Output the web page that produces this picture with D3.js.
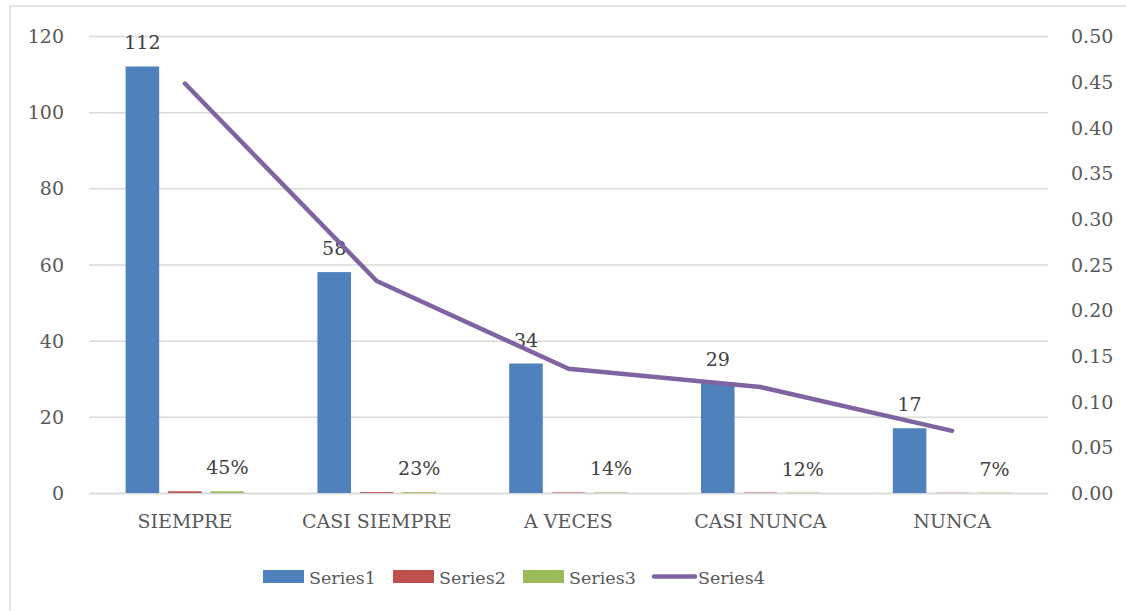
<!DOCTYPE html>
<html>
<head>
<meta charset="utf-8">
<script src="https://cdn.jsdelivr.net/npm/d3@7"></script>
<style>
  html, body { margin: 0; padding: 0; background: #fff; }
  svg { display: block; }
  text { font-family: "DejaVu Serif", serif; }
</style>
</head>
<body>
<svg id="chart" width="1126" height="611"></svg>
<script>
const categories = ["SIEMPRE", "CASI SIEMPRE", "A VECES", "CASI NUNCA", "NUNCA"];
const series1 = [112, 58, 34, 29, 17];
const series2 = [0.448, 0.232, 0.136, 0.116, 0.068];
const series3 = [0.448, 0.232, 0.136, 0.116, 0.068];
const series4 = [0.448, 0.232, 0.136, 0.116, 0.068];
const leftTicks = [0, 20, 40, 60, 80, 100, 120];
const rightTicks = [0, 0.05, 0.10, 0.15, 0.20, 0.25, 0.30, 0.35, 0.40, 0.45, 0.50];
const seriesNames = ["Series1", "Series2", "Series3", "Series4"];
const colors = ["#4F81BD", "#C0504D", "#9BBB59", "#8064A2"];

const svg = d3.select("#chart");
const plot = { left: 89, right: 1048, top: 36, bottom: 493 };

// chart border
svg.append("rect").attr("x", 10).attr("y", 6).attr("width", 1130).attr("height", 620)
  .attr("fill", "#fff").attr("stroke", "#D9D9D9").attr("stroke-width", 1.5);

const x = d3.scaleBand().domain(categories).range([plot.left, plot.right]).padding(0);
const y = d3.scaleLinear().domain([0, 120]).range([plot.bottom, plot.top]);
const y2 = d3.scaleLinear().domain([0, 0.5]).range([plot.bottom, plot.top]);

// gridlines + left axis
const leftAxis = d3.axisLeft(y).tickValues(leftTicks).tickSize(-(plot.right - plot.left)).tickPadding(25);
const gL = svg.append("g").attr("transform", `translate(${plot.left},0)`).call(leftAxis);
gL.select(".domain").remove();
gL.selectAll(".tick line").attr("stroke", "#D9D9D9").attr("stroke-width", 1.5);
gL.selectAll(".tick text").attr("fill", "#595959").attr("font-size", 19)
  .attr("font-family", "DejaVu Serif").attr("dy", "0.35em");

const rightAxis = d3.axisRight(y2).tickValues(rightTicks).tickSize(0).tickPadding(23).tickFormat(d3.format(".2f"));
const gR = svg.append("g").attr("transform", `translate(${plot.right},0)`).call(rightAxis);
gR.select(".domain").remove();
gR.selectAll(".tick text").attr("fill", "#595959").attr("font-size", 19)
  .attr("font-family", "DejaVu Serif").attr("dy", "0.35em");

// category axis
const bottomAxis = d3.axisBottom(x).tickSize(0).tickPadding(22);
const gB = svg.append("g").attr("transform", `translate(0,${plot.bottom})`).call(bottomAxis);
gB.select(".domain").attr("stroke", "#D9D9D9").attr("stroke-width", 1.5);
gB.selectAll(".tick text").attr("fill", "#595959").attr("font-size", 19)
  .attr("font-family", "DejaVu Serif");

// bars
const bw = x.bandwidth();
const barW = bw * 0.175;
const step = bw * 0.2216;
const barSeries = [series1, series2, series3];
barSeries.forEach((vals, si) => {
  svg.append("g").selectAll("rect").data(vals).join("rect")
    .attr("x", (d, i) => x(categories[i]) + bw / 2 + (si - 1) * step - barW / 2)
    .attr("y", d => y(d))
    .attr("width", barW)
    .attr("height", d => y(0) - y(d))
    .attr("fill", colors[si]);
});

// bar labels series1
svg.append("g").selectAll("text").data(series1).join("text")
  .attr("x", (d, i) => x(categories[i]) + bw / 2 - step)
  .attr("y", d => y(d) - 17)
  .attr("text-anchor", "middle").attr("font-size", 19).attr("fill", "#404040")
  .text(d => d);

// labels series3
svg.append("g").selectAll("text").data(series3).join("text")
  .attr("x", (d, i) => x(categories[i]) + bw / 2 + step)
  .attr("y", d => y(d) - 17)
  .attr("text-anchor", "middle").attr("font-size", 19).attr("fill", "#404040")
  .text(d => d3.format(".0%")(d));

// line series4
const line = d3.line()
  .x((d, i) => x(categories[i]) + bw / 2)
  .y(d => y2(d));
svg.append("path").datum(series4).attr("d", line)
  .attr("fill", "none").attr("stroke", colors[3]).attr("stroke-width", 4.5)
  .attr("stroke-linejoin", "round").attr("stroke-linecap", "round");

// legend
const legendX = [263, 393, 523, 652];
const lg = svg.append("g");
seriesNames.forEach((name, i) => {
  if (i < 3) {
    lg.append("rect").attr("x", legendX[i]).attr("y", 570).attr("width", 41).attr("height", 13)
      .attr("fill", colors[i]);
  } else {
    lg.append("line").attr("x1", legendX[i] + 2).attr("x2", legendX[i] + 43)
      .attr("y1", 576.5).attr("y2", 576.5)
      .attr("stroke", colors[i]).attr("stroke-width", 4.5).attr("stroke-linecap", "round");
  }
  lg.append("text").attr("x", legendX[i] + 46).attr("y", 584)
    .attr("font-size", 17.5).attr("fill", "#595959").text(name);
});
</script>
</body>
</html>
